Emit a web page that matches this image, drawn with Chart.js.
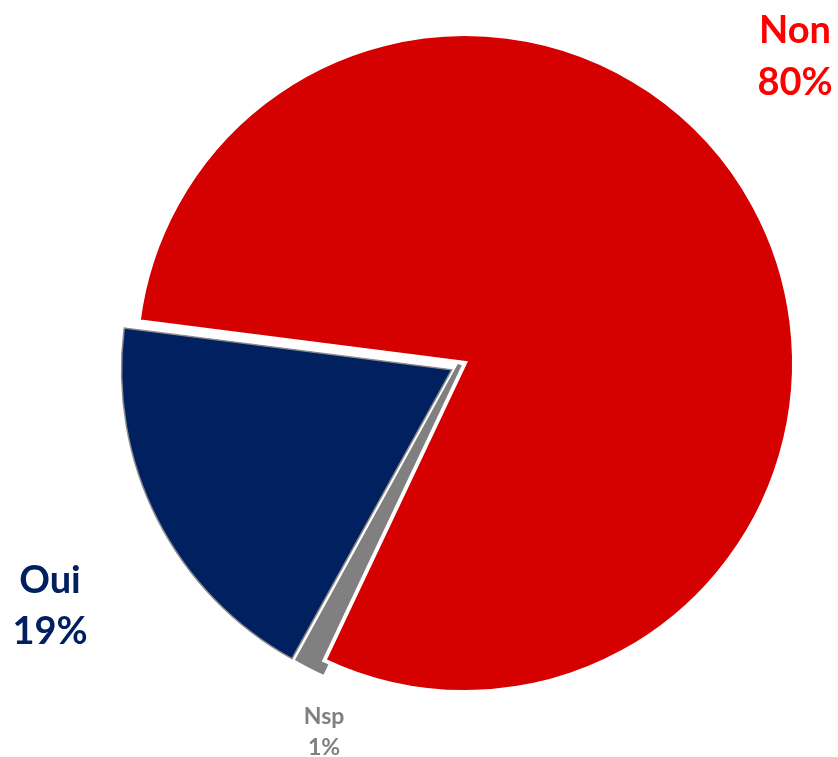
<!DOCTYPE html>
<html>
<head>
<meta charset="utf-8">
<script src="https://cdn.jsdelivr.net/npm/chart.js@4"></script>
<style>
  html, body { margin: 0; padding: 0; background: #fff; }
  #wrap { width: 838px; height: 757px; }
</style>
</head>
<body>
<div id="wrap"><canvas id="pie"></canvas></div>
<script>
// slice order follows the drawing order: Nsp first, Non last
const labels  = ['Nsp', 'Oui', 'Non'];
const values  = [1, 19, 80];
const colors  = ['#808080', '#002060', '#D50000'];
const textColors = ['#808080', '#002060', '#FF0000'];

// where each label block sits (centre x, baseline of first line, line gap, size)
const labelPos = [
    { x: 324, y: 724, gap: 31, size: 23 },
    { x: 50,  y: 593, gap: 51, size: 38 },
    { x: 795, y: 43,  gap: 52, size: 38 },
];

const outsideLabels = {
    id: 'outsideLabels',
    afterDraw(chart) {
        const ctx = chart.ctx;
        ctx.save();
        ctx.textAlign = 'center';
        ctx.textBaseline = 'alphabetic';
        labels.forEach((lab, i) => {
            const p = labelPos[i];
            ctx.font = `bold ${p.size}px Lato, "Open Sans", sans-serif`;
            ctx.fillStyle = textColors[i];
            ctx.fillText(lab, p.x, p.y);
            ctx.fillText(values[i] + '%', p.x, p.y + p.gap);
        });
        ctx.restore();
    }
};

// chart.js moves an arc by offset/4 * (1 + (1 - sin(angle)))
new Chart(document.getElementById('pie'), {
    type: 'pie',
    data: {
        labels,
        datasets: [{
            data: values,
            backgroundColor: colors,
            borderColor: ['#808080', '#8a8a8a', '#ffffff'],
            borderWidth: [12, 1.5, 4],
            borderJoinStyle: 'miter',
            offset: [15, 60, 0]
        }]
    },
    options: {
        responsive: true,
        maintainAspectRatio: false,
        animation: false,
        rotation: 205.3,
        radius: 329,
        layout: { padding: { left: 92, right: 0, top: 0, bottom: 31 } },
        plugins: {
            legend: { display: false },
            tooltip: { enabled: false }
        }
    },
    plugins: [outsideLabels]
});
</script>
</body>
</html>
